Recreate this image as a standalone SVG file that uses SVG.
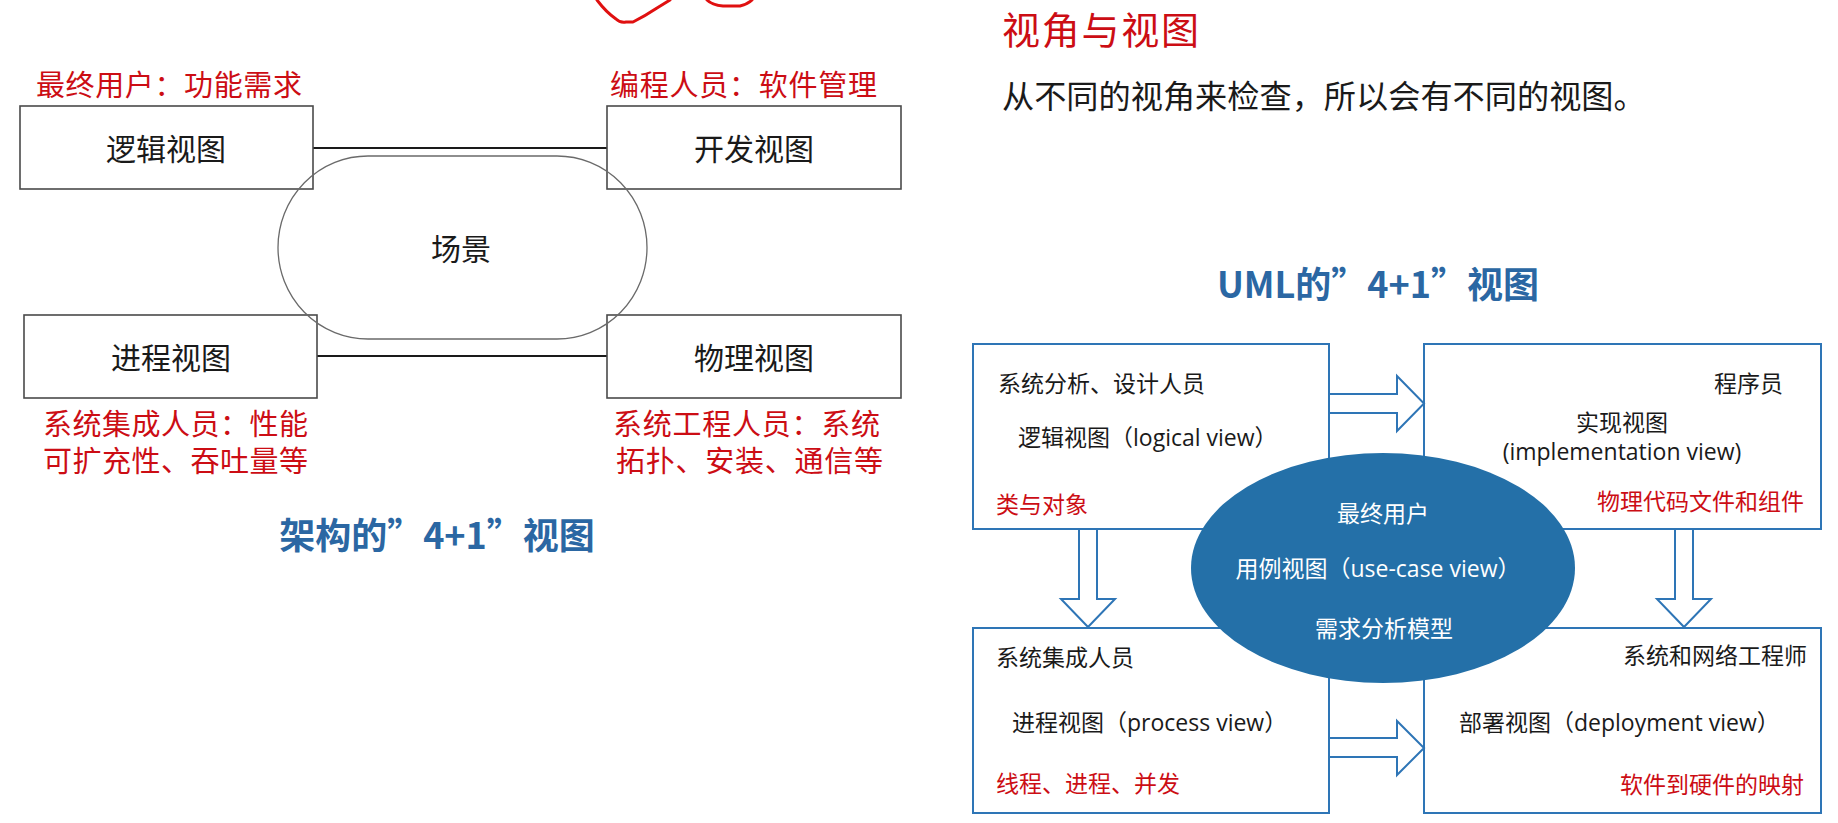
<svg xmlns="http://www.w3.org/2000/svg" width="1838" height="823" viewBox="0 0 1838 823">
<style>
text{font-family:"Noto Sans CJK SC","Noto Sans",sans-serif}
.big{font-size:30px;fill:#1a1a1a}
.red30{font-size:29px;fill:#cc0d14}
.box{fill:#fff;stroke:#4a4a4a;stroke-width:1.6}
.link{stroke:#1a1a1a;stroke-width:2.2;fill:none}
.title{font-size:36px;font-weight:bold;fill:#2b67a3}
.u{font-family:"Open Sans","Noto Sans CJK SC",sans-serif;font-size:23px;fill:#1a1a1a}
.ur{font-family:"Noto Sans CJK SC",sans-serif;font-size:23px;fill:#cc0d14}
.uw{font-family:"Open Sans","Noto Sans CJK SC",sans-serif;font-size:23px;fill:#fff}
.ubox{fill:#fff;stroke:#2e75b6;stroke-width:2}
.arr{fill:#fff;stroke:#2e75b6;stroke-width:2;stroke-linejoin:miter}
</style>
<rect width="1838" height="823" fill="#fff"/>

<!-- hand-drawn red annotation -->
<g id="scribble" fill="none" stroke="#e01010" stroke-width="3" stroke-linecap="round" stroke-linejoin="round">
<path d="M597,0 Q606,12 616,19 Q620,23 626,22 L633,22 Q645,16 657,8 L670,0"/>
<path d="M707,0 Q712,5 723,6 L740,6 Q748,4 752,0"/>
</g>

<!-- left: 架构的 4+1 视图 -->
<g id="connectors-left">
<line class="link" x1="313" y1="148" x2="607" y2="148"/>
<line class="link" x1="317" y1="356" x2="607" y2="356"/>
</g>
<g id="logical">
<rect class="box" x="20" y="106" width="293" height="83"/>
<text class="big" x="166" y="147" text-anchor="middle" dominant-baseline="central">逻辑视图</text>
<text class="red30" x="36" y="83" textLength="266" dominant-baseline="central">最终用户：功能需求</text>
</g>
<g id="development">
<rect class="box" x="607" y="106" width="294" height="83"/>
<text class="big" x="754" y="147" text-anchor="middle" dominant-baseline="central">开发视图</text>
<text class="red30" x="610" y="83" textLength="267" dominant-baseline="central">编程人员：软件管理</text>
</g>
<g id="process">
<rect class="box" x="24" y="315" width="293" height="83"/>
<text class="big" x="171" y="356" text-anchor="middle" dominant-baseline="central">进程视图</text>
<text class="red30" x="43" y="422" textLength="265" dominant-baseline="central">系统集成人员：性能</text>
<text class="red30" x="43" y="459" textLength="265" dominant-baseline="central">可扩充性、吞吐量等</text>
</g>
<g id="physical">
<rect class="box" x="607" y="315" width="294" height="83"/>
<text class="big" x="754" y="356" text-anchor="middle" dominant-baseline="central">物理视图</text>
<text class="red30" x="613" y="422" textLength="267" dominant-baseline="central">系统工程人员：系统</text>
<text class="red30" x="616" y="459" textLength="267" dominant-baseline="central">拓扑、安装、通信等</text>
</g>
<g id="scenario">
<rect x="278" y="156" width="369" height="183" rx="90" ry="91.5" fill="none" stroke="#6a6a6a" stroke-width="1.3"/>
<text class="big" x="461" y="247" text-anchor="middle" dominant-baseline="central">场景</text>
</g>
<text class="title" x="437" y="533" text-anchor="middle" dominant-baseline="central">架构的”4+1”视图</text>

<!-- right: 视角与视图 -->
<text x="1002" y="27" font-size="38" textLength="197" fill="#cc0d14" dominant-baseline="central">视角与视图</text>
<text x="1002" y="94" font-size="32.2" fill="#1a1a1a" dominant-baseline="central">从不同的视角来检查，所以会有不同的视图。</text>
<text class="title" x="1378" y="282" text-anchor="middle" dominant-baseline="central">UML的”4+1”视图</text>

<g id="uml-logical">
<rect class="ubox" x="973" y="344" width="356" height="185"/>
<text class="u" x="998" y="383" dominant-baseline="central">系统分析、设计人员</text>
<text class="u" x="1018" y="437" dominant-baseline="central">逻辑视图（logical view）</text>
<text class="ur" x="996" y="503" dominant-baseline="central">类与对象</text>
</g>
<g id="uml-implementation">
<rect class="ubox" x="1424" y="344" width="397" height="185"/>
<text class="u" x="1783" y="383" text-anchor="end" dominant-baseline="central">程序员</text>
<text class="u" x="1622" y="422" text-anchor="middle" dominant-baseline="central">实现视图</text>
<text class="u" x="1622" y="451" text-anchor="middle" dominant-baseline="central">(implementation view)</text>
<text class="ur" x="1804" y="500" text-anchor="end" dominant-baseline="central">物理代码文件和组件</text>
</g>
<g id="uml-process">
<rect class="ubox" x="973" y="628" width="356" height="185"/>
<text class="u" x="996" y="657" dominant-baseline="central">系统集成人员</text>
<text class="u" x="1012" y="722" dominant-baseline="central">进程视图（process view）</text>
<text class="ur" x="996" y="782" dominant-baseline="central">线程、进程、并发</text>
</g>
<g id="uml-deployment">
<rect class="ubox" x="1424" y="628" width="397" height="185"/>
<text class="u" x="1807" y="655" text-anchor="end" dominant-baseline="central">系统和网络工程师</text>
<text class="u" x="1459" y="722" dominant-baseline="central">部署视图（deployment view）</text>
<text class="ur" x="1804" y="783" text-anchor="end" dominant-baseline="central">软件到硬件的映射</text>
</g>

<g id="uml-connectors">
<polygon class="arr" points="1329,394 1397,394 1397,376 1424,403.5 1397,431 1397,413 1329,413"/>
<polygon class="arr" points="1329,738 1397,738 1397,721 1424,748 1397,775 1397,757 1329,757"/>
<polygon class="arr" points="1079,529 1097,529 1097,599 1115,599 1088,627 1061,599 1079,599"/>
<polygon class="arr" points="1675,529 1693,529 1693,599 1711,599 1684,627 1657,599 1675,599"/>
</g>

<g id="uml-usecase">
<ellipse cx="1383" cy="568" rx="192" ry="115" fill="#2470a8"/>
<text class="uw" x="1383" y="513" text-anchor="middle" dominant-baseline="central">最终用户</text>
<text class="uw" x="1378" y="568" text-anchor="middle" dominant-baseline="central">用例视图（use-case view）</text>
<text class="uw" x="1384" y="628" text-anchor="middle" dominant-baseline="central">需求分析模型</text>
</g>
</svg>
